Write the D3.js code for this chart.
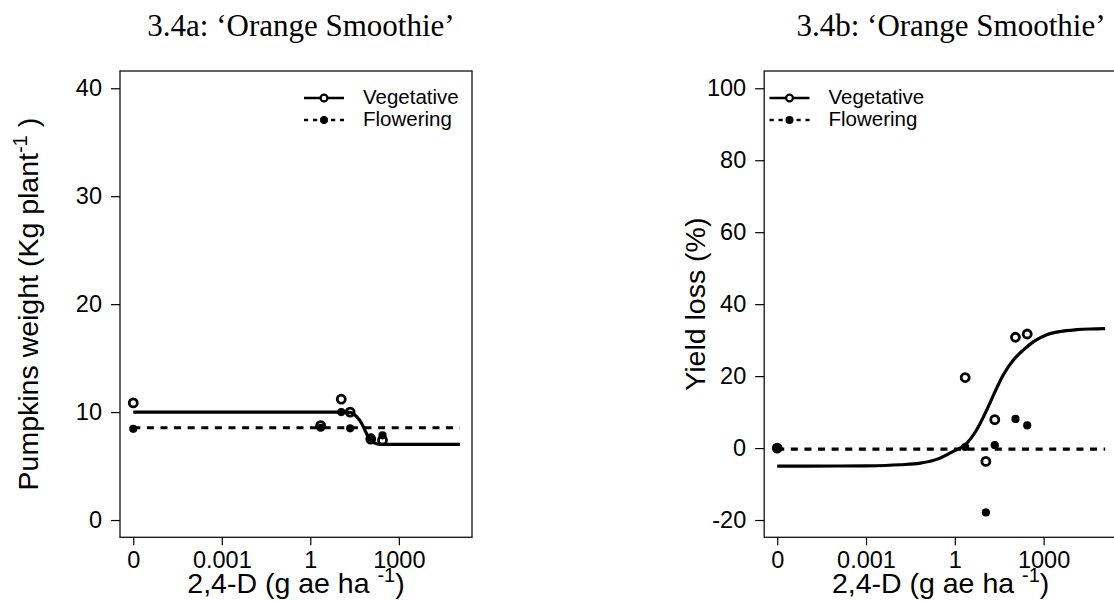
<!DOCTYPE html>
<html>
<head>
<meta charset="utf-8">
<script src="https://cdn.jsdelivr.net/npm/d3@7"></script>
<style>
  body { margin: 0; background: #fff; }
  svg { display: block; }
  text { font-family: "Liberation Sans", Arial, sans-serif; fill: #000; white-space: pre; }
  .title { font-family: "Liberation Serif", "Times New Roman", serif; font-size: 31px; }
  .tick text { font-size: 23.5px; }
  .tick line { stroke: #000; stroke-width: 1.2; }
  .axis-title { font-size: 28.5px; }
  .legend text { font-size: 20.5px; }
</style>
</head>
<body>
<div id="chart"></div>
<script>
// doses in g ae/ha (0 is drawn at the "0" tick, 1e-6)
var doses = [0, 2.24, 11.2, 22.4, 112, 280];

// 3.4a pumpkin weight (kg/plant)
var weightVeg = [10.85, 8.75, 11.2, 10.0, 7.5, 7.4];
var weightFlow = [8.45, 8.55, 10.0, 8.5, 7.65, 7.85];

// 3.4b yield loss (%)
var lossVeg = [0, 19.6, -3.7, 7.9, 30.8, 31.7];
var lossFlow = [0, 0.3, -17.9, 0.8, 8.1, 6.3];

// fitted curves (log10 dose, value)
var weightVegCurveLog = [-6, 1.0, 1.34, 1.57, 1.74, 1.85, 1.96, 2.13, 2.36, 2.6, 5.07];
var weightVegCurve    = [10.0, 10.0, 9.97, 9.57, 8.95, 8.33, 7.71, 7.19, 7.01, 7.0, 7.0];
var weightFlowCurveLog = [-6, 5.07];
var weightFlowCurve    = [8.55, 8.55];

var lossVegCurveLog = [-6, -4, -3, -1.85, -1.17, -0.5, -0.05, 0.35, 0.74, 1.08, 1.36, 1.64, 1.98, 2.32, 2.66, 3.11, 3.56, 4.12, 4.57, 5.08];
var lossVegCurve    = [-5.0, -4.98, -4.93, -4.64, -4.2, -2.8, -0.9, 0.9, 5.1, 10.6, 15.7, 20.4, 24.5, 27.3, 29.6, 31.5, 32.4, 32.9, 33.1, 33.2];
var lossFlowCurveLog = [-6, 5.08];
var lossFlowCurve    = [-0.3, -0.3];

var xTicks = [-6, -3, 0, 3];
var xTickLabels = ["0", "0.001", "1", "1000"];
var weightTicks = [0, 10, 20, 30, 40];
var lossTicks = [-20, 0, 20, 40, 60, 80, 100];

var seriesNames = ["Vegetative", "Flowering"];

var width = 1114, height = 601;

var svg = d3.select("#chart").append("svg")
    .attr("width", width)
    .attr("height", height);

function logDose(d) {
  return d > 0 ? Math.log10(d) : -6;
}

function zip(a, b) {
  return a.map(function(v, i) { return [v, b[i]]; });
}

function drawPanel(p) {
  var x = d3.scaleLinear().domain(p.xDomain).range([p.left, p.right]);
  var y = d3.scaleLinear().domain(p.yDomain).range([p.bottom, p.top]);

  var g = svg.append("g");

  g.append("text")
      .attr("class", "title")
      .attr("x", p.titleX)
      .attr("y", 36)
      .attr("text-anchor", "middle")
      .text(p.title);

  g.append("rect")
      .attr("x", p.left)
      .attr("y", p.top)
      .attr("width", p.right - p.left)
      .attr("height", p.bottom - p.top)
      .attr("fill", "none")
      .attr("stroke", "#222")
      .attr("stroke-width", 1.4);

  var xAxis = d3.axisBottom(x)
      .tickValues(xTicks)
      .tickFormat(function(d, i) { return xTickLabels[i]; })
      .tickSize(8)
      .tickPadding(6);

  // plain hyphen for negatives, like the original
  var yAxis = d3.axisLeft(y)
      .tickValues(p.yTicks)
      .tickFormat(function(d) { return String(d); })
      .tickSize(9)
      .tickPadding(9);

  g.append("g")
      .attr("transform", "translate(0," + p.bottom + ")")
      .call(xAxis)
      .call(function(s) { s.select(".domain").remove(); })
      .selectAll("text").attr("font-family", null).attr("font-size", null);

  g.append("g")
      .attr("transform", "translate(" + p.left + ",0)")
      .call(yAxis)
      .call(function(s) { s.select(".domain").remove(); })
      .selectAll("text").attr("font-family", null).attr("font-size", null);

  // x axis title with superscript
  var xt = g.append("text")
      .attr("class", "axis-title")
      .attr("x", (p.left + p.right) / 2)
      .attr("y", 593)
      .attr("text-anchor", "middle");
  xt.append("tspan").text("2,4-D (g ae ha ");
  xt.append("tspan").attr("dy", -11).attr("font-size", "20px").text("-1");
  xt.append("tspan").attr("dy", 11).text(")");

  // y axis title
  var yt = g.append("text")
      .attr("class", "axis-title")
      .attr("transform", "translate(" + p.yTitleX + "," + ((p.top + p.bottom) / 2) + ") rotate(-90)")
      .attr("text-anchor", "middle");
  yt.append("tspan").text(p.yTitle);
  if (p.yTitleSup) {
    yt.append("tspan").attr("dy", -11).attr("font-size", "20px").text(p.yTitleSup);
    yt.append("tspan").attr("dy", 11).text(" )");
  }

  var line = d3.line()
      .x(function(d) { return x(d[0]); })
      .y(function(d) { return y(d[1]); })
      .curve(d3.curveMonotoneX);

  g.append("path")
      .datum(zip(p.flowCurveLog, p.flowCurve))
      .attr("d", line)
      .attr("fill", "none")
      .attr("stroke", "#000")
      .attr("stroke-width", 3.2)
      .attr("stroke-dasharray", "7,6.6");

  g.append("path")
      .datum(zip(p.vegCurveLog, p.vegCurve))
      .attr("d", line)
      .attr("fill", "none")
      .attr("stroke", "#000")
      .attr("stroke-width", 3.2);

  g.selectAll(".flow")
      .data(zip(doses, p.flow))
    .enter().append("circle")
      .attr("class", "flow")
      .attr("cx", function(d) { return x(logDose(d[0])); })
      .attr("cy", function(d) { return y(d[1]); })
      .attr("r", 4.1)
      .attr("fill", "#000");

  g.selectAll(".veg")
      .data(zip(doses, p.veg))
    .enter().append("circle")
      .attr("class", "veg")
      .attr("cx", function(d) { return x(logDose(d[0])); })
      .attr("cy", function(d) { return y(d[1]); })
      .attr("r", 4.0)
      .attr("fill", "none")
      .attr("stroke", "#000")
      .attr("stroke-width", 2.8);

  // legend
  var lg = g.append("g").attr("class", "legend");
  var ly = [98, 120];
  seriesNames.forEach(function(name, i) {
    lg.append("line")
        .attr("x1", p.legendX)
        .attr("x2", p.legendX + 40)
        .attr("y1", ly[i])
        .attr("y2", ly[i])
        .attr("stroke", "#000")
        .attr("stroke-width", 2.6)
        .attr("stroke-dasharray", i === 0 ? null : "4.2,4.8");
    lg.append("circle")
        .attr("cx", p.legendX + 20)
        .attr("cy", ly[i])
        .attr("r", i === 0 ? 3.4 : 4)
        .attr("fill", i === 0 ? "#fff" : "#000")
        .attr("stroke", i === 0 ? "#000" : null)
        .attr("stroke-width", 2.2);
    lg.append("text")
        .attr("x", p.legendX + 59)
        .attr("y", ly[i])
        .attr("dy", "0.28em")
        .text(name);
  });
}

drawPanel({
  title: "3.4a: \u2018Orange Smoothie\u2019",
  titleX: 301,
  left: 120, right: 472, top: 71, bottom: 537.3,
  xDomain: [-6.45, 5.48],
  yDomain: [-1.6, 41.6],
  yTicks: weightTicks,
  yTitle: "Pumpkins weight (Kg plant",
  yTitleSup: "-1",
  yTitleX: 37.5,
  veg: weightVeg, flow: weightFlow,
  vegCurveLog: weightVegCurveLog, vegCurve: weightVegCurve,
  flowCurveLog: weightFlowCurveLog, flowCurve: weightFlowCurve,
  legendX: 304
});

drawPanel({
  title: "3.4b: \u2018Orange Smoothie\u2019",
  titleX: 951,
  left: 764.2, right: 1117, top: 71, bottom: 537.3,
  xDomain: [-6.44, 5.48],
  yDomain: [-24.8, 104.8],
  yTicks: lossTicks,
  yTitle: "Yield loss (%)",
  yTitleSup: null,
  yTitleX: 705,
  veg: lossVeg, flow: lossFlow,
  vegCurveLog: lossVegCurveLog, vegCurve: lossVegCurve,
  flowCurveLog: lossFlowCurveLog, flowCurve: lossFlowCurve,
  legendX: 769.5
});
</script>
</body>
</html>
